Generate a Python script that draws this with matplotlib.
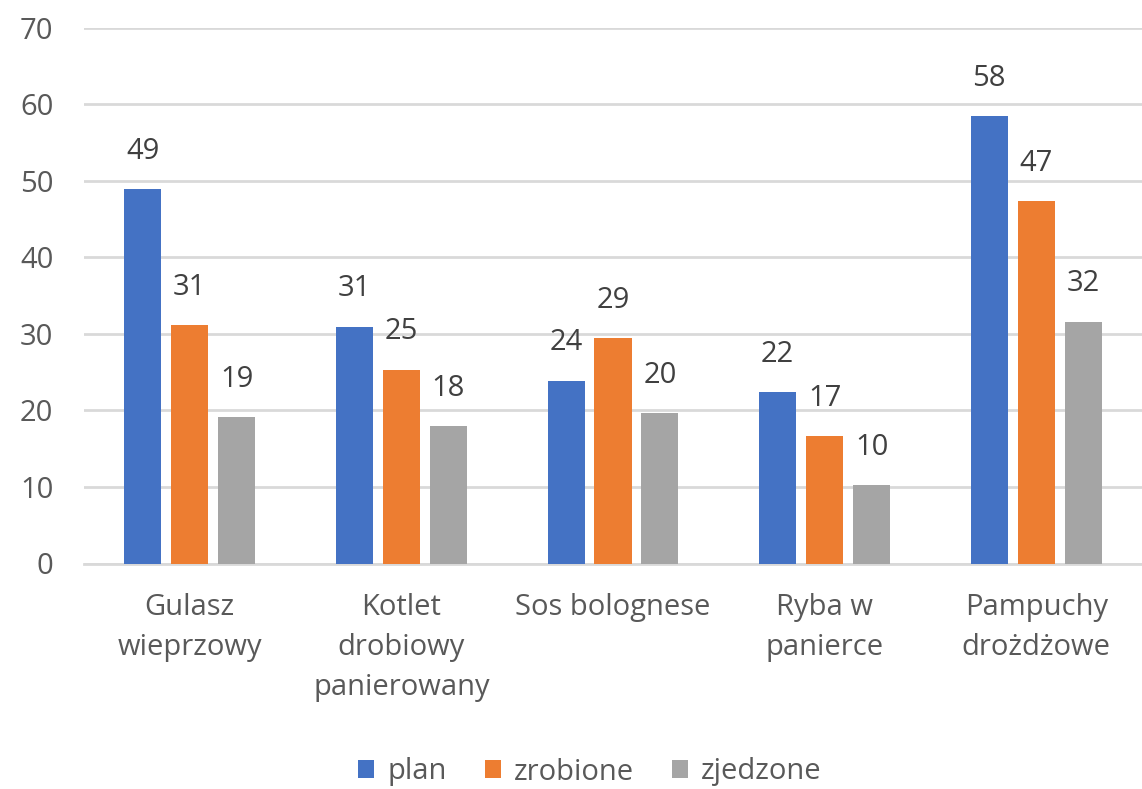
import matplotlib
matplotlib.use("Agg")
import matplotlib.pyplot as plt
import numpy as np

categories = ["Gulasz\nwieprzowy", "Kotlet\ndrobiowy\npanierowany", "Sos bolognese",
              "Ryba w\npanierce", "Pampuchy\ndrożdżowe"]
series_names = ["plan", "zrobione", "zjedzone"]
plan = [48.9, 30.9, 23.9, 22.4, 58.4]
zrobione = [31.1, 25.3, 29.4, 16.6, 47.3]
zjedzone = [19.1, 17.9, 19.6, 10.2, 31.6]
colors = ["#4472C4", "#ED7D31", "#A5A5A5"]
yticks = [0, 10, 20, 30, 40, 50, 60, 70]

plt.rcParams['font.family'] = ['Open Sans', 'DejaVu Sans']
txt = "#595959"
fs = 21

fig = plt.figure(figsize=(11.42, 7.89), dpi=100)
ax = fig.add_axes([84/1142, 1-563.5/789, 1-84/1142, (563.5-27.7)/789])

x = np.arange(len(categories))
step = 0.222
width = 0.175
for i, (vals, name, c) in enumerate(zip([plan, zrobione, zjedzone], series_names, colors)):
    pos = x + (i - 1) * step
    ax.bar(pos, vals, width=width, color=c, label=name, zorder=3)
    for xi, v in zip(pos, vals):
        ax.annotate(f"{v:.0f}", (xi, v), xytext=(0, 38), textcoords="offset pixels",
                    ha="center", va="center", fontsize=fs, color="#404040")

ax.set_xlim(-0.5, len(categories) - 0.5)
ax.set_ylim(0, 70)
ax.set_yticks(yticks)
ax.set_yticklabels([str(t) for t in yticks], fontsize=fs, color=txt)
ax.set_xticks(x)
ax.set_xticklabels(categories, fontsize=fs, color=txt, linespacing=1.5, va="top")
ax.tick_params(axis="both", length=0)
ax.tick_params(axis="y", pad=22)
ax.tick_params(axis="x", pad=21)
ax.grid(axis="y", color="#D9D9D9", linewidth=2, zorder=0)
for s in ["top", "right", "left"]:
    ax.spines[s].set_visible(False)
ax.spines["bottom"].set_color("#D9D9D9")
ax.spines["bottom"].set_linewidth(2)

fig.legend(loc="center", bbox_to_anchor=(590/1142, 1-772/789), ncol=3, frameon=False,
           fontsize=fs, handlelength=0.55, handleheight=0.55, handletextpad=0.45,
           columnspacing=1.3, labelcolor=txt)

fig.savefig("out.png", dpi=100)
